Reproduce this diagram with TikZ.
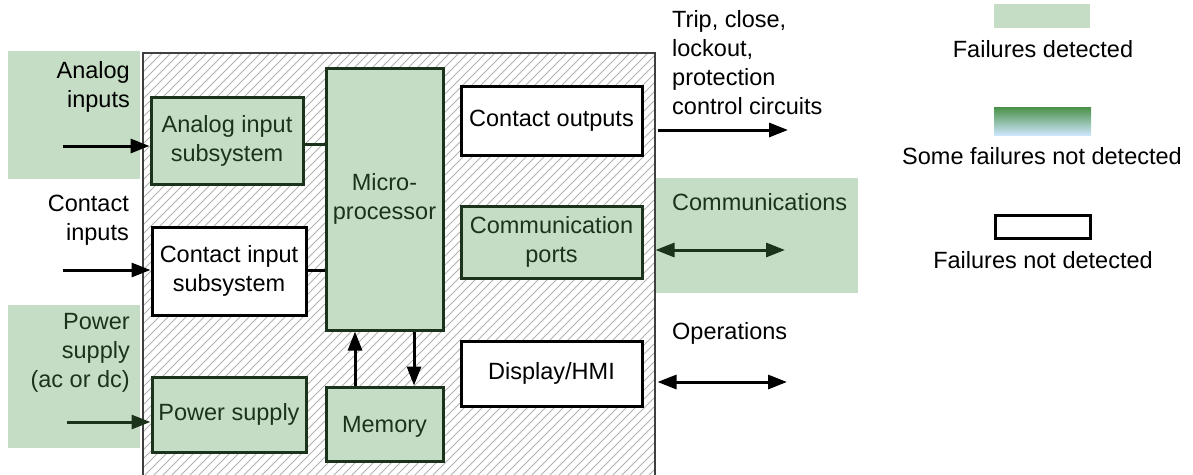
\documentclass[tikz,border=0pt]{standalone}
\usepackage{fontspec}
\setmainfont{Liberation Sans}
\usetikzlibrary{arrows.meta}
\definecolor{gfill}{HTML}{C5DDC4}
\definecolor{dgreen}{HTML}{1B331B}
\definecolor{hatchc}{HTML}{B2B2B2}
\definecolor{gtop}{HTML}{4A9147}
\definecolor{gmid}{HTML}{A9CDD6}
\definecolor{gbot}{HTML}{CDE6FB}
\tikzset{
  txt/.style={font=\fontsize{23.5}{29}\selectfont, inner sep=0pt},
  gbox/.style={draw=dgreen, fill=gfill, line width=3pt, text=dgreen, inner sep=0pt, align=center, font=\fontsize{23.5}{29}\selectfont},
  wbox/.style={draw=black, fill=white, line width=3pt, text=black, inner sep=0pt, align=center, font=\fontsize{23.5}{29}\selectfont},
  zone/.style={fill=gfill, draw=none},
  conn/.style={line width=3pt},
  arr/.style={line width=3pt, -{Triangle[length=19pt,width=14pt]}},
  darr/.style={line width=3pt, {Triangle[length=19pt,width=14pt]}-{Triangle[length=19pt,width=14pt]}},
  hatch/.style={draw=hatchc, line width=0.8pt}
}
\begin{document}
\begin{tikzpicture}[x=1pt,y=-1pt]
\useasboundingbox (0,0) rectangle (1193,474);
% green zones
\fill[zone] (8,51) rectangle (140,179);
\fill[zone] (8,305) rectangle (140,448);
\fill[zone] (655,178) rectangle (858,293);
% hatched housing
\fill[white] (143,53) rectangle (655,480);
\begin{scope}
\clip (143,53) rectangle (655,480);
\foreach \x in {-320,-311,...,660} {
  \draw[hatch] (\x,490) -- ++(450,-450);
}
\end{scope}
\draw[draw=black!75, line width=1.2pt] (143,480) -- (143,53) -- (655,53) -- (655,480);
% boxes
\node[gbox, minimum width=152pt, minimum height=87pt] (ais) at (227,140.5) {Analog input\\subsystem};
\node[wbox, minimum width=154pt, minimum height=88pt] (cis) at (229,271) {Contact input\\subsystem};
\node[gbox, minimum width=154pt, minimum height=75pt] (ps) at (229,414.5) {Power supply};
\node[gbox, minimum width=117pt, minimum height=262pt] (mp) at (384.5,199) {Micro-\\processor};
\node[gbox, minimum width=117pt, minimum height=74pt, text depth=0pt] (mem) at (384.5,424) {Memory};
\node[wbox, minimum width=181pt, minimum height=69pt] (co) at (551.5,120.5) {Contact outputs};
\node[gbox, minimum width=181pt, minimum height=72pt] (cp) at (551.5,242) {Communication\\ports};
\node[wbox, minimum width=181pt, minimum height=65pt] (hmi) at (551.5,373.5) {Display/HMI};
% internal connectors
\draw[conn, draw=dgreen] (ais.east |- 0,144) -- (mp.west |- 0,144);
\draw[conn] (cis.east |- 0,270) -- (mp.west |- 0,270);
\draw[arr] (mem.north -| 355,0) -- (mp.south -| 355,0);
\draw[arr] (mp.south -| 414,0) -- (mem.north -| 414,0);
% external labels
\node[txt, align=right, anchor=east] (ain) at (130,87) {Analog\\inputs};
\node[txt, align=right, anchor=east] (cin) at (129,220) {Contact\\inputs};
\node[txt, align=right, anchor=east, text=dgreen] (pin) at (130,352.5) {Power\\supply\\(ac or dc)};
\coordinate (ainS) at (63,146);
\coordinate (cinS) at (63,270);
\coordinate (pinS) at (67,422);
\draw[arr] (ainS) -- (ais.west |- ainS);
\draw[arr] (cinS) -- (cis.west |- cinS);
\draw[arr, draw=dgreen, fill=dgreen] (pinS) -- (ps.west |- pinS);
% outputs
\node[txt, align=left, anchor=west] (trip) at (672,63) {Trip, close,\\lockout,\\protection\\control circuits};
\node[txt, anchor=west, text=dgreen] (comm) at (672,202) {Communications};
\node[txt, anchor=west] (ops) at (672,333) {Operations};
\coordinate (coE) at (788,130);
\coordinate (cpE) at (785,250);
\coordinate (opE) at (787,382);
\draw[arr] (co.east |- coE) ++(14,0) -- (coE);
\draw[darr, draw=dgreen, fill=dgreen] (cp.east |- cpE) ++(12,0) -- (cpE);
\draw[darr] (hmi.east |- opE) ++(14,0) -- (opE);
% legend
\fill[gfill] (994,4) rectangle (1090,28);
\node[txt] (l1) at (1043,49) {Failures detected};
\shade[top color=gtop, middle color=gmid, bottom color=gbot] (994,107) rectangle (1091,135);
\node[txt] (l2) at (1042,156) {Some failures not detected};
\draw[line width=3pt] (995,215) rectangle (1090,238);
\node[txt] (l3) at (1043,260) {Failures not detected};
\end{tikzpicture}
\end{document}
